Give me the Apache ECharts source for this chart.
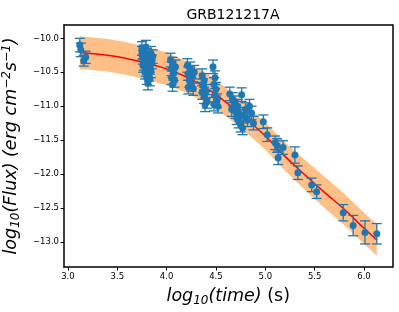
<!DOCTYPE html>
<html><head><meta charset="utf-8">
<script src="https://cdn.jsdelivr.net/npm/echarts@6/dist/echarts.min.js"></script>
<style>html,body{margin:0;padding:0;background:#fff}#c{width:399px;height:312px}</style>
</head><body><div id="c"></div>
<script>
// observed data (log10 time, log10 flux, flux error)
const logTime = [3.12,3.13,3.18,3.16,
 3.75,3.77,3.79,3.80,3.76,3.82,3.78,3.84,3.81,3.76,3.83,3.79,3.85,3.78,3.82,3.80,3.84,3.86,3.77,3.83,3.75,3.81,
 4.04,4.06,4.05,4.07,4.05,4.08,4.06,4.09,
 4.21,4.24,4.22,4.26,4.23,4.25,4.27,4.22,4.28,
 4.36,4.38,4.37,4.40,4.38,4.41,4.39,4.36,
 4.47,4.49,4.48,4.50,4.49,4.51,4.48,4.52,
 4.64,4.67,4.69,4.72,4.70,4.74,4.66,4.76,4.78,4.73,4.75,4.80,4.84,4.82,4.71,4.77,4.86,4.88,
 4.98,5.02,5.10,5.12,5.18,5.13,5.30,5.33,5.47,5.52,
 5.79,5.89,6.01,6.13];
const logFlux = [-10.10,-10.17,-10.28,-10.33,
 -10.15,-10.20,-10.13,-10.25,-10.28,-10.30,-10.33,-10.22,-10.38,-10.40,-10.43,-10.46,-10.35,-10.50,-10.53,-10.58,-10.48,-10.27,-10.37,-10.60,-10.22,-10.66,
 -10.32,-10.38,-10.45,-10.52,-10.58,-10.62,-10.68,-10.42,
 -10.40,-10.45,-10.52,-10.56,-10.62,-10.68,-10.74,-10.72,-10.50,
 -10.55,-10.62,-10.70,-10.78,-10.86,-10.93,-10.98,-10.80,
 -10.42,-10.58,-10.68,-10.75,-10.84,-10.92,-10.97,-11.00,
 -10.82,-10.90,-10.95,-11.00,-11.08,-11.12,-11.05,-10.83,-11.15,-11.22,-11.28,-11.05,-11.00,-11.20,-11.17,-11.32,-11.10,-11.25,
 -11.23,-11.42,-11.54,-11.58,-11.61,-11.76,-11.72,-11.98,-12.16,-12.26,
 -12.57,-12.76,-12.86,-12.88];
const fluxErr = [0.10,0.10,0.09,0.08,
 0.10,0.10,0.10,0.10,0.10,0.10,0.10,0.10,0.10,0.10,0.10,0.10,0.10,0.10,0.10,0.10,0.10,0.10,0.10,0.10,0.10,0.10,
 0.10,0.10,0.10,0.10,0.10,0.10,0.10,0.10,
 0.10,0.10,0.10,0.10,0.10,0.10,0.10,0.10,0.10,
 0.10,0.10,0.10,0.10,0.10,0.10,0.10,0.10,
 0.10,0.10,0.10,0.10,0.10,0.10,0.10,0.10,
 0.10,0.10,0.10,0.10,0.10,0.10,0.10,0.10,0.10,0.10,0.10,0.10,0.10,0.10,0.10,0.10,0.10,0.10,
 0.10,0.10,0.10,0.10,0.10,0.10,0.12,0.10,0.10,0.10,
 0.12,0.15,0.17,0.15];
// fitted model and its band
const fitTime = [3.12,3.4,3.6,3.8,4.0,4.2,4.4,4.6,4.8,5.0,5.2,5.4,5.6,5.8,6.0,6.13];
const fitFlux = [-10.21,-10.25,-10.30,-10.37,-10.45,-10.57,-10.73,-10.94,-11.18,-11.44,-11.74,-12.01,-12.27,-12.52,-12.80,-12.97];
const bandHalf = [0.24,0.24,0.24,0.24,0.24,0.23,0.22,0.21,0.20,0.20,0.21,0.22,0.23,0.23,0.23,0.23];
const xTicks = [3.0,3.5,4.0,4.5,5.0,5.5,6.0];
const yTicks = [-13.0,-12.5,-12.0,-11.5,-11.0,-10.5,-10.0];

const pts = logTime.map((t,i)=>[t, logFlux[i], fluxErr[i]]);
const fitData = fitTime.map((t,i)=>[t, fitFlux[i]]);
const fmt = v => v.toFixed(1).replace('-', '\u2212');
const font = 'DejaVu Sans';

const chart = echarts.init(document.getElementById('c'), null, {renderer:'canvas'});
chart.setOption({
  animation:false,
  backgroundColor:'#fff',
  title:{text:'GRB121217A', left:228, top:3, textAlign:'center',
    textStyle:{fontFamily:font, fontSize:14, fontWeight:'normal', color:'#000'}},
  grid:{left:64, top:25, width:328.5, height:242, outerBoundsMode:'none', containLabel:false},
  xAxis:[{type:'value', min:2.96, max:6.289, splitLine:{show:false},
    axisLine:{onZero:false, lineStyle:{color:'#000', width:1.5}},
    axisTick:{customValues:xTicks, length:3.5, lineStyle:{color:'#000'}},
    axisLabel:{customValues:xTicks, formatter:fmt, fontFamily:font, fontSize:8.5, color:'#000', margin:5},
    name:'{i|log}{s|10}{i|(time)}{n| (s)}', nameLocation:'middle', nameGap:19,
    nameTextStyle:{rich:{
      i:{fontFamily:font, fontStyle:'italic', fontSize:17.5, color:'#000'},
      s:{fontFamily:font, fontStyle:'italic', fontSize:12, color:'#000', verticalAlign:'bottom', padding:[9,0,0,0]},
      n:{fontFamily:font, fontSize:17.5, color:'#000'}}}},
   {type:'value', position:'top', min:2.96, max:6.289, splitLine:{show:false},
    axisLine:{onZero:false, lineStyle:{color:'#000', width:1.5}}, axisTick:{show:false}, axisLabel:{show:false}}],
  yAxis:[{type:'value', min:-13.37, max:-9.804, splitLine:{show:false},
    axisLine:{onZero:false, lineStyle:{color:'#000', width:1.5}},
    axisTick:{customValues:yTicks, length:3.5, lineStyle:{color:'#000'}},
    axisLabel:{customValues:yTicks, formatter:fmt, fontFamily:font, fontSize:8.5, color:'#000', margin:5},
    name:'{i|log}{s|10}{i|(Flux) (erg cm}{p|\u22122}{i|s}{p|\u22121}{i|)}', nameLocation:'middle', nameGap:36, nameRotate:90,
    nameTextStyle:{rich:{
      i:{fontFamily:font, fontStyle:'italic', fontSize:17.5, color:'#000'},
      s:{fontFamily:font, fontStyle:'italic', fontSize:12, color:'#000', padding:[9,0,0,0]},
      p:{fontFamily:font, fontStyle:'italic', fontSize:12, color:'#000', padding:[0,0,9,0]}}}},
   {type:'value', position:'right', min:-13.37, max:-9.804, splitLine:{show:false},
    axisLine:{onZero:false, lineStyle:{color:'#000', width:1.5}}, axisTick:{show:false}, axisLabel:{show:false}}],
  series:[
    {type:'custom', z:1, silent:true, data:[[fitTime[0], fitFlux[0]]],
     renderItem:(params, api)=>{
       const up = fitTime.map((t,i)=>api.coord([t, fitFlux[i]+bandHalf[i]]));
       const lo = fitTime.map((t,i)=>api.coord([t, fitFlux[i]-bandHalf[i]])).reverse();
       return {type:'polygon', shape:{points:up.concat(lo)}, style:{fill:'rgba(255,127,14,0.5)'}};
     }},
    {type:'line', z:2, data:fitData, smooth:true, showSymbol:false, lineStyle:{color:'#ff0000', width:1.5}},
    {type:'custom', z:3, data:pts, renderItem:(params, api)=>{
       const x = api.value(0), y = api.value(1), e = api.value(2);
       const a = api.coord([x, y+e]), b = api.coord([x, y-e]);
       const st = {stroke:'#1f77b4', lineWidth:1.3};
       return {type:'group', children:[
         {type:'line', shape:{x1:a[0], y1:a[1], x2:b[0], y2:b[1]}, style:st},
         {type:'line', shape:{x1:a[0]-5, y1:a[1], x2:a[0]+5, y2:a[1]}, style:st},
         {type:'line', shape:{x1:b[0]-5, y1:b[1], x2:b[0]+5, y2:b[1]}, style:st}]};
     }},
    {type:'scatter', z:4, data:pts.map(p=>[p[0],p[1]]), symbol:'circle', symbolSize:7,
     itemStyle:{color:'#1f77b4', opacity:1}}
  ]
});
</script></body></html>
